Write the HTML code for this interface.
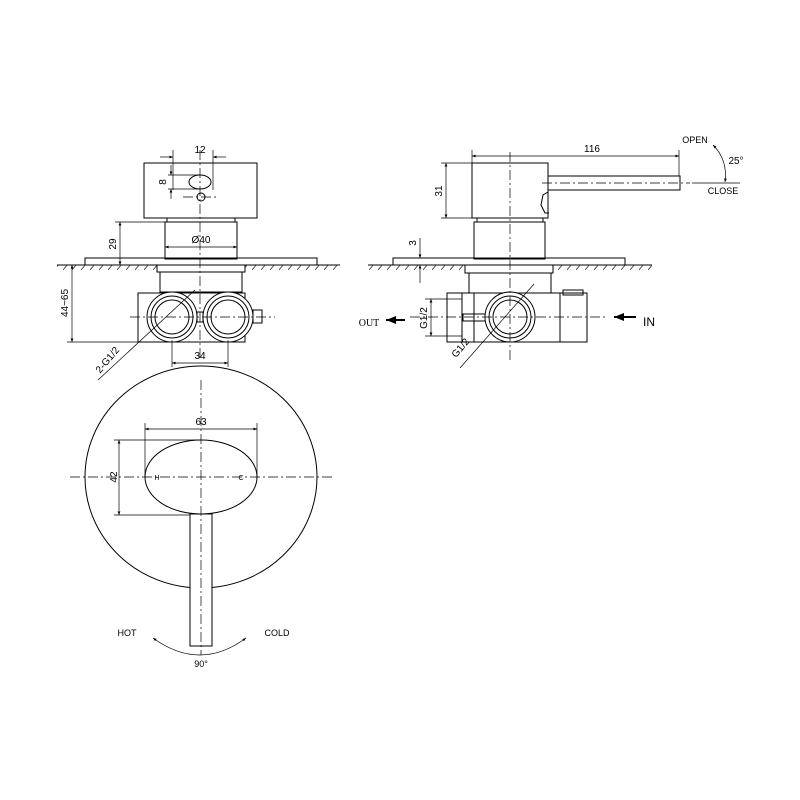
<!DOCTYPE html>
<html><head><style>html,body{margin:0;padding:0;background:#fff}svg{display:block}</style></head><body>
<svg width="800" height="800" viewBox="0 0 800 800" xmlns="http://www.w3.org/2000/svg" font-family="Liberation Sans, sans-serif">
<defs>
<marker id="a" viewBox="0 0 10 10" refX="10" refY="5" markerWidth="7" markerHeight="5" orient="auto-start-reverse"><path d="M0,1 L10,5 L0,9 z" fill="#000"/></marker>
<pattern id="h" width="9" height="6" patternUnits="userSpaceOnUse"><line x1="0" y1="6" x2="5" y2="0" stroke="#333" stroke-width="0.8"/></pattern>
</defs>
<g fill="none" stroke="#000" stroke-width="1">
<rect x="144" y="163" width="113" height="55"/>
<rect x="167" y="218" width="68" height="4"/>
<rect x="165" y="222" width="72" height="37"/>
<rect x="85" y="258" width="232" height="7"/>
<line x1="57" y1="265" x2="340" y2="265"/>
<rect x="57" y="265" width="100" height="5" fill="url(#h)" stroke="none"/>
<rect x="245" y="265" width="95" height="5" fill="url(#h)" stroke="none"/>
<rect x="157" y="265" width="88" height="7"/>
<rect x="160" y="272" width="82" height="20"/>
<rect x="138" y="293" width="107" height="49"/>
<circle cx="172" cy="317" r="25" fill="#fff"/><circle cx="172" cy="317" r="21"/><circle cx="172" cy="317" r="17"/>
<circle cx="228" cy="317" r="25" fill="#fff"/><circle cx="228" cy="317" r="21"/><circle cx="228" cy="317" r="17"/>
<rect x="197" y="312" width="6" height="10"/>
<rect x="253" y="310" width="9" height="13"/>
<ellipse cx="200" cy="182" rx="11" ry="7"/>
<circle cx="201" cy="197" r="4"/>
<g stroke-dasharray="10,3,2,3" stroke-width="0.7">
<line x1="200" y1="150" x2="200" y2="360"/>
<line x1="130" y1="317" x2="275" y2="317"/>
<line x1="183" y1="197" x2="218" y2="197"/>
</g>
<g stroke-width="0.7">
<line x1="173" y1="150" x2="173" y2="190"/><line x1="213" y1="150" x2="213" y2="190"/>
<line x1="160" y1="157" x2="173" y2="157" marker-end="url(#a)"/><line x1="226" y1="157" x2="213" y2="157" marker-end="url(#a)"/>
<line x1="168" y1="175" x2="200" y2="175"/><line x1="168" y1="189" x2="200" y2="189"/>
<line x1="171" y1="165" x2="171" y2="175" marker-end="url(#a)"/><line x1="171" y1="199" x2="171" y2="189" marker-end="url(#a)"/>
<line x1="115" y1="222" x2="165" y2="222"/>
<line x1="120" y1="222" x2="120" y2="265" marker-start="url(#a)" marker-end="url(#a)"/>
<line x1="165" y1="247" x2="237" y2="247" marker-start="url(#a)" marker-end="url(#a)"/>
<line x1="67" y1="342" x2="138" y2="342"/>
<line x1="72" y1="265" x2="72" y2="342" marker-start="url(#a)" marker-end="url(#a)"/>
<line x1="172" y1="340" x2="172" y2="367"/><line x1="228" y1="340" x2="228" y2="367"/>
<line x1="172" y1="363" x2="228" y2="363" marker-start="url(#a)" marker-end="url(#a)"/>
<line x1="195" y1="290" x2="98" y2="380"/>
</g>
<ellipse cx="201" cy="477" rx="116" ry="111"/>
<ellipse cx="201" cy="477" rx="56" ry="37" fill="#fff"/>
<rect x="190" y="514" width="22" height="132" fill="#fff"/>
<g stroke-dasharray="10,3,2,3" stroke-width="0.7">
<line x1="70" y1="477" x2="335" y2="477"/>
<line x1="201" y1="380" x2="201" y2="655"/>
</g>
<g stroke-width="0.7">
<line x1="145" y1="423" x2="145" y2="477"/><line x1="257" y1="423" x2="257" y2="477"/>
<line x1="145" y1="429" x2="257" y2="429" marker-start="url(#a)" marker-end="url(#a)"/>
<line x1="114" y1="440" x2="201" y2="440"/><line x1="114" y1="515" x2="190" y2="515"/>
<line x1="119" y1="440" x2="119" y2="515" marker-start="url(#a)" marker-end="url(#a)"/>
<path d="M153,638 Q200,672 246,638" marker-start="url(#a)" marker-end="url(#a)"/>
</g>
<rect x="472" y="163" width="76" height="55"/>
<rect x="548" y="176" width="132" height="14"/>
<path d="M548,192 l-5,3 -2,10 4,8 4,0"/>
<rect x="477" y="218" width="66" height="4"/>
<rect x="474" y="222" width="71" height="37"/>
<rect x="393" y="258" width="232" height="7"/>
<line x1="368" y1="265" x2="652" y2="265"/>
<rect x="368" y="265" width="97" height="5" fill="url(#h)" stroke="none"/>
<rect x="553" y="265" width="99" height="5" fill="url(#h)" stroke="none"/>
<rect x="465" y="265" width="88" height="8"/>
<rect x="469" y="273" width="82" height="20"/>
<rect x="447" y="293" width="140" height="49"/>
<rect x="462" y="293" width="12" height="49"/>
<line x1="560" y1="293" x2="560" y2="342"/>
<rect x="563" y="290" width="20" height="5"/>
<rect x="463" y="314" width="25" height="7"/>
<circle cx="510" cy="317" r="25" fill="#fff"/><circle cx="510" cy="317" r="21"/><circle cx="510" cy="317" r="17"/>
<g stroke-dasharray="10,3,2,3" stroke-width="0.7">
<line x1="510" y1="152" x2="510" y2="362"/>
<line x1="410" y1="317" x2="605" y2="317"/>
<line x1="542" y1="183" x2="690" y2="183"/>
</g>
<g stroke-width="0.7">
<line x1="472" y1="150" x2="472" y2="163"/><line x1="679" y1="150" x2="679" y2="176"/>
<line x1="472" y1="156" x2="679" y2="156" marker-start="url(#a)" marker-end="url(#a)"/>
<line x1="441" y1="163" x2="472" y2="163"/><line x1="441" y1="218" x2="472" y2="218"/>
<line x1="446" y1="163" x2="446" y2="218" marker-start="url(#a)" marker-end="url(#a)"/>
<line x1="420" y1="238" x2="420" y2="258" marker-end="url(#a)"/><line x1="420" y1="283" x2="420" y2="265" marker-end="url(#a)"/>
<line x1="425" y1="299" x2="462" y2="299"/><line x1="425" y1="336" x2="462" y2="336"/>
<line x1="431" y1="299" x2="431" y2="336" marker-start="url(#a)" marker-end="url(#a)"/>
<line x1="534" y1="284" x2="460" y2="368"/>
<line x1="692" y1="183" x2="740" y2="183"/>
<path d="M713,145 Q728,160 725,182" marker-start="url(#a)" marker-end="url(#a)"/>
</g>
<g stroke-width="2">
<line x1="405" y1="320" x2="386" y2="320" marker-end="url(#a)"/>
<line x1="636" y1="317" x2="614" y2="317" marker-end="url(#a)"/>
</g>
</g>
<g font-size="10" fill="#000">
<text x="200" y="153" text-anchor="middle">12</text>
<text x="166" y="182" text-anchor="middle" transform="rotate(-90 166 182)">8</text>
<text x="116" y="244" text-anchor="middle" transform="rotate(-90 116 244)">29</text>
<text x="201" y="243" text-anchor="middle">Ø40</text>
<text x="68" y="303" text-anchor="middle" transform="rotate(-90 68 303)">44~65</text>
<text x="200" y="359" text-anchor="middle">34</text>
<text x="110" y="362" text-anchor="middle" transform="rotate(-50 110 362)">2-G1/2</text>
<text x="201" y="425" text-anchor="middle">63</text>
<text x="117" y="477" text-anchor="middle" transform="rotate(-90 117 477)">42</text>
<text x="127" y="636" text-anchor="middle" font-size="9">HOT</text>
<text x="277" y="636" text-anchor="middle" font-size="9">COLD</text>
<text x="201" y="667" text-anchor="middle" font-size="9">90°</text>
<text x="592" y="152" text-anchor="middle">116</text>
<text x="442" y="191" text-anchor="middle" transform="rotate(-90 442 191)">31</text>
<text x="416" y="243" text-anchor="middle" transform="rotate(-90 416 243)">3</text>
<text x="427" y="318" text-anchor="middle" transform="rotate(-90 427 318)">G1/2</text>
<text x="463" y="350" text-anchor="middle" transform="rotate(-50 463 350)">G1/2</text>
<text x="695" y="143" text-anchor="middle" font-size="9">OPEN</text>
<text x="736" y="164" text-anchor="middle">25°</text>
<text x="723" y="194" text-anchor="middle" font-size="9">CLOSE</text>
<text x="369" y="326" text-anchor="middle" font-family="Liberation Serif, serif" font-size="10">OUT</text>
<text x="649" y="326" text-anchor="middle" font-size="12">IN</text>
<text x="157" y="480" text-anchor="middle" font-size="7">H</text>
<text x="241" y="480" text-anchor="middle" font-size="7">C</text>
</g>
</svg>
</body></html>
